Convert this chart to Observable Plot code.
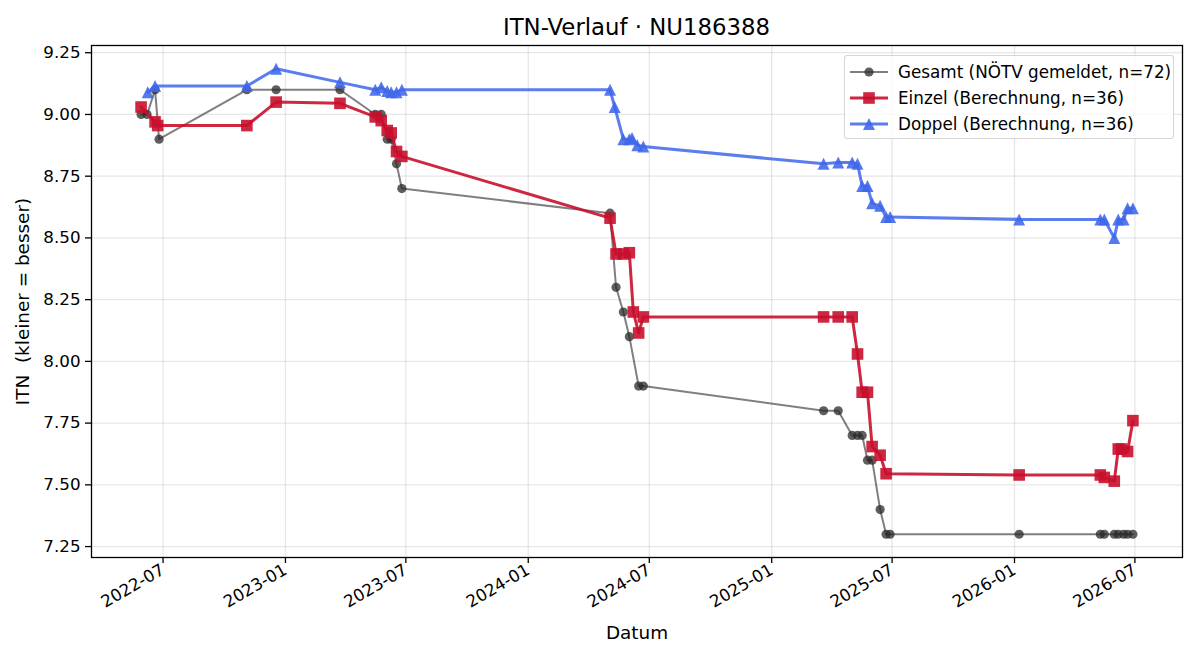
<!DOCTYPE html>
<html lang="de">
<head>
<meta charset="utf-8">
<title>ITN-Verlauf · NU186388</title>
<script src="https://cdn.jsdelivr.net/npm/d3@7"></script>
<script src="https://cdn.jsdelivr.net/npm/@observablehq/plot@0.6"></script>
<style>
  html, body { margin: 0; padding: 0; background: #fff; }
  #chart { position: relative; width: 1200px; height: 660px; font-family: "DejaVu Sans", sans-serif; color: #000; }
  #chart svg { position: absolute; left: 0; top: 0; }
  #chart svg text { white-space: pre; }
  #title { position: absolute; left: 91px; width: 1091px; top: 16px; text-align: center; font-size: 22.8px; line-height: 23px; }
  #legend { position: absolute; left: 844px; top: 55px; width: 328px; height: 82px; border: 1px solid rgba(204,204,204,0.8); border-radius: 3px; background: rgba(255,255,255,0.8); font-size: 16.8px; }
  #legend .row { position: absolute; left: 0; height: 26px; display: flex; align-items: center; white-space: pre; }
  #legend .row svg { position: static; margin-left: 3px; margin-right: 10px; }
</style>
</head>
<body>
<div id="chart">
  <div id="title">ITN-Verlauf · NU186388</div>
</div>
<script>
// ---- Series: Gesamt (reported by NÖTV) ----
const gesamtDates = [
  "2022-05-29", "2022-06-07", "2022-06-19", "2022-06-25",
  "2022-11-04", "2022-12-18", "2023-03-24",
  "2023-05-16", "2023-05-25", "2023-06-03", "2023-06-09", "2023-06-17", "2023-06-25",
  "2024-05-03", "2024-05-12", "2024-05-23", "2024-06-01", "2024-06-15", "2024-06-22",
  "2025-03-20", "2025-04-11", "2025-05-02", "2025-05-10", "2025-05-17", "2025-05-25", "2025-06-01",
  "2025-06-13", "2025-06-22", "2025-06-28",
  "2026-01-08", "2026-05-10", "2026-05-16", "2026-05-31", "2026-06-06", "2026-06-14", "2026-06-20", "2026-06-28"
];
const gesamtValues = [
  9.0, 9.0, 9.1, 8.9,
  9.1, 9.1, 9.1,
  9.0, 9.0, 8.9, 8.9, 8.8, 8.7,
  8.6, 8.3, 8.2, 8.1, 7.9, 7.9,
  7.8, 7.8, 7.7, 7.7, 7.7, 7.6, 7.6,
  7.4, 7.3, 7.3,
  7.3, 7.3, 7.3, 7.3, 7.3, 7.3, 7.3, 7.3
];

// ---- Series: Einzel (computed) ----
const einzelDates = [
  "2022-05-29", "2022-06-19", "2022-06-23",
  "2022-11-04", "2022-12-18", "2023-03-24",
  "2023-05-16", "2023-05-25", "2023-06-03", "2023-06-09", "2023-06-17", "2023-06-25",
  "2024-05-03", "2024-05-12", "2024-05-23", "2024-06-01", "2024-06-07", "2024-06-15", "2024-06-22",
  "2025-03-20", "2025-04-11", "2025-05-02", "2025-05-10", "2025-05-17", "2025-05-25", "2025-06-01",
  "2025-06-13", "2025-06-22",
  "2026-01-08", "2026-05-10", "2026-05-16", "2026-05-31", "2026-06-06", "2026-06-11", "2026-06-20", "2026-06-28"
];
const einzelValues = [
  9.03, 8.97, 8.955,
  8.955, 9.05, 9.045,
  8.99, 8.975, 8.935, 8.925, 8.85, 8.83,
  8.58, 8.435, 8.435, 8.44, 8.20, 8.115, 8.18,
  8.18, 8.18, 8.18, 8.03, 7.875, 7.875, 7.655,
  7.62, 7.545,
  7.54, 7.54, 7.53, 7.515, 7.645, 7.645, 7.635, 7.76
];

// ---- Series: Doppel (computed) ----
const doppelDates = [
  "2022-06-08", "2022-06-19",
  "2022-11-04", "2022-12-18", "2023-03-24",
  "2023-05-16", "2023-05-25", "2023-06-03", "2023-06-09", "2023-06-17", "2023-06-25",
  "2024-05-03", "2024-05-10", "2024-05-23", "2024-06-01", "2024-06-05", "2024-06-13", "2024-06-22",
  "2025-03-20", "2025-04-11", "2025-05-02", "2025-05-10", "2025-05-17", "2025-05-25", "2025-06-01",
  "2025-06-13", "2025-06-22", "2025-06-28",
  "2026-01-08", "2026-05-10", "2026-05-16", "2026-05-31", "2026-06-06", "2026-06-14", "2026-06-20", "2026-06-28"
];
const doppelValues = [
  9.09, 9.115,
  9.115, 9.185, 9.13,
  9.10, 9.11, 9.095, 9.09, 9.09, 9.10,
  9.10, 9.03, 8.90, 8.90, 8.905, 8.875, 8.87,
  8.80, 8.805, 8.805, 8.80, 8.71, 8.71, 8.64,
  8.63, 8.585, 8.585,
  8.575, 8.575, 8.575, 8.50, 8.575, 8.575, 8.62, 8.62
];

// ---- Axis ticks ----
const xTickDates = ["2022-07-01", "2023-01-01", "2023-07-01", "2024-01-01", "2024-07-01",
                    "2025-01-01", "2025-07-01", "2026-01-01", "2026-07-01"];
const yTicks = [7.25, 7.50, 7.75, 8.00, 8.25, 8.50, 8.75, 9.00, 9.25];

// ---- Legend labels ----
const seriesLabels = [
  "Gesamt (NÖTV gemeldet, n=72)",
  "Einzel (Berechnung, n=36)",
  "Doppel (Berechnung, n=36)"
];

const parse = d3.utcParse("%Y-%m-%d");
const toRows = (dates, values) => dates.map((d, i) => ({date: parse(d), value: values[i]}));
const gesamt = toRows(gesamtDates, gesamtValues);
const einzel = toRows(einzelDates, einzelValues);
const doppel = toRows(doppelDates, doppelValues);
const xTicks = xTickDates.map(parse);

// Square and upward triangle markers whose half-extent equals the dot radius
const squareSymbol = {
  draw(ctx, size) { const h = Math.sqrt(size / Math.PI); ctx.rect(-h, -h, 2 * h, 2 * h); }
};
const triangleSymbol = {
  draw(ctx, size) {
    const h = Math.sqrt(size / Math.PI);
    ctx.moveTo(0, -h); ctx.lineTo(h, h); ctx.lineTo(-h, h); ctx.closePath();
  }
};

const styles = [
  {data: gesamt, color: "#000000", opacity: 0.5, width: 2, symbol: "circle", r: 4.6, dotColor: "#2a2a2a", dotOpacity: 0.75},
  {data: einzel, color: "#c8102e", opacity: 0.9, width: 3, symbol: squareSymbol, r: 5.8, dotColor: "#c8102e", dotOpacity: 0.9},
  {data: doppel, color: "#3f66ea", opacity: 0.85, width: 3, symbol: triangleSymbol, r: 6, dotColor: "#3f66ea", dotOpacity: 0.88}
];

// Domains with 5% padding around the data extent
const all = [...gesamt, ...einzel, ...doppel];
const [xMin, xMax] = d3.extent(all, d => d.date);
const [yMin, yMax] = d3.extent(all, d => d.value);
const padX = (xMax - xMin) * 0.05;
const padY = (yMax - yMin) * 0.05;

const seriesMarks = styles.flatMap(s => [
  Plot.line(s.data, {x: "date", y: "value", stroke: s.color, strokeOpacity: s.opacity, strokeWidth: s.width}),
  Plot.dot(s.data, {x: "date", y: "value", symbol: s.symbol, r: s.r, fill: s.dotColor, fillOpacity: s.dotOpacity, stroke: "none"})
]);

const gridStyle = {stroke: "#b0b0b0", strokeOpacity: 0.3, strokeWidth: 1.3};

const chart = Plot.plot({
  width: 1200,
  height: 660,
  marginLeft: 91,
  marginRight: 18,
  marginTop: 45,
  marginBottom: 103,
  style: {fontFamily: "DejaVu Sans, sans-serif", fontSize: "16.7px", color: "#000", background: "transparent"},
  x: {type: "utc", domain: [new Date(+xMin - padX), new Date(+xMax + padX)]},
  y: {domain: [yMin - padY, yMax + padY]},
  marks: [
    Plot.gridX(xTicks, gridStyle),
    Plot.gridY(yTicks, gridStyle),
    Plot.axisX(xTicks, {
      tickFormat: d3.utcFormat("%Y-%m"), tickRotate: -30, tickSize: 6, tickPadding: 5,
      fontSize: 16.7, stroke: "#000", strokeWidth: 1.3, label: null
    }),
    Plot.axisY(yTicks, {
      tickFormat: d3.format(".2f"), tickSize: 6, tickPadding: 5,
      fontSize: 16.7, stroke: "#000", strokeWidth: 1.3, label: null
    }),
    // Axis titles, placed relative to the frame edges
    Plot.axisX(xTicks, {
      text: null, tickSize: 0, fontSize: 18.4,
      label: "Datum", labelAnchor: "center", labelOffset: 81, labelArrow: "none"
    }),
    Plot.axisY(yTicks, {
      text: null, tickSize: 0, fontSize: 18.4,
      label: "ITN  (kleiner = besser)", labelAnchor: "center", labelOffset: 76, labelArrow: "none"
    }),
    ...seriesMarks,
    Plot.frame({stroke: "#000", strokeWidth: 1.3})
  ]
});

const container = document.getElementById("chart");
container.insertBefore(chart, container.firstChild);

// Legend box in the upper right of the plot area
const legend = document.createElement("div");
legend.id = "legend";
const rowCenters = [16, 42, 68];
styles.forEach((s, i) => {
  const row = document.createElement("div");
  row.className = "row";
  row.style.top = (rowCenters[i] - 13) + "px";
  const svg = d3.create("svg").attr("width", 40).attr("height", 26);
  svg.append("line").attr("x1", 2).attr("x2", 40).attr("y1", 13).attr("y2", 13)
    .attr("stroke", s.color).attr("stroke-opacity", s.opacity).attr("stroke-width", s.width);
  const sym = typeof s.symbol === "string" ? d3.symbolCircle : s.symbol;
  svg.append("path").attr("transform", "translate(21,13)")
    .attr("d", d3.symbol(sym, s.r * s.r * Math.PI)())
    .attr("fill", s.dotColor).attr("fill-opacity", s.dotOpacity);
  row.appendChild(svg.node());
  const label = document.createElement("span");
  label.textContent = seriesLabels[i];
  row.appendChild(label);
  legend.appendChild(row);
});
container.appendChild(legend);
</script>
</body>
</html>
